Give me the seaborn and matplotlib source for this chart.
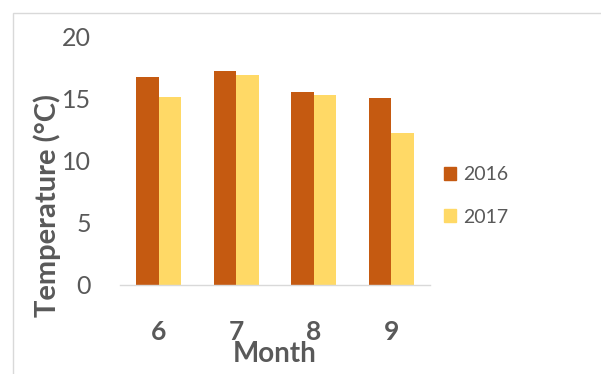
import matplotlib
matplotlib.use("Agg")
import matplotlib.pyplot as plt
import matplotlib.patches as mpatches
import seaborn as sns
import pandas as pd

months = ["6", "7", "8", "9"]
temps_2016 = [16.7, 17.2, 15.5, 15.0]
temps_2017 = [15.1, 16.9, 15.3, 12.2]
years = ["2016", "2017"]
colors = {"2016": "#C55A11", "2017": "#FFD966"}

df = pd.DataFrame({
    "Month": months * 2,
    "Temperature": temps_2016 + temps_2017,
    "Year": ["2016"] * len(months) + ["2017"] * len(months),
})

sns.set_theme(style="white")
plt.rcParams["font.family"] = ["Lato", "DejaVu Sans"]

fig = plt.figure(figsize=(6.01, 3.74), dpi=100)
ax = fig.add_axes([120 / 601, (374 - 285) / 374, 310 / 601, (285 - 36) / 374])

sns.barplot(data=df, x="Month", y="Temperature", hue="Year", order=months,
            hue_order=years, palette=colors, saturation=1, width=0.58,
            gap=0, linewidth=0, ax=ax, legend=False)

ax.set_ylim(0, 20)
ax.set_yticks([0, 5, 10, 15, 20])
ax.set_xlim(-0.5, 3.5)
for s in ["top", "right", "left"]:
    ax.spines[s].set_visible(False)
ax.spines["bottom"].set_color("#d9d9d9")
ax.spines["bottom"].set_linewidth(1.0)

ax.tick_params(axis="y", length=0, pad=21, labelsize=18, labelcolor="#595959")
ax.tick_params(axis="x", length=0, pad=25, labelsize=19, labelcolor="#595959")
for t in ax.get_xticklabels():
    t.set_fontweight("bold")

ax.set_xlabel("Month", fontsize=20, fontweight="bold", color="#595959")
ax.xaxis.set_label_coords(0.5, -0.225)
ax.set_ylabel("Temperature (°C)", fontsize=21, fontweight="bold", color="#595959")
ax.yaxis.set_label_coords(-0.19, 0.32)

handles = [mpatches.Patch(color=colors[y], label=y) for y in years]
fig.legend(handles=handles, loc="upper left", bbox_to_anchor=(426 / 601, 1 - 149 / 374),
           frameon=False, fontsize=14, labelcolor="#595959", handlelength=0.65,
           handleheight=0.65, handletextpad=0.35, labelspacing=1.3)

# thin frame around the chart area
fig.patches.append(mpatches.Rectangle((13 / 601, -0.1), 1.0, 1 - 13 / 374 + 0.1,
                                      transform=fig.transFigure, fill=False,
                                      edgecolor="#d9d9d9", linewidth=1.0))

fig.savefig("out.png", dpi=100)
